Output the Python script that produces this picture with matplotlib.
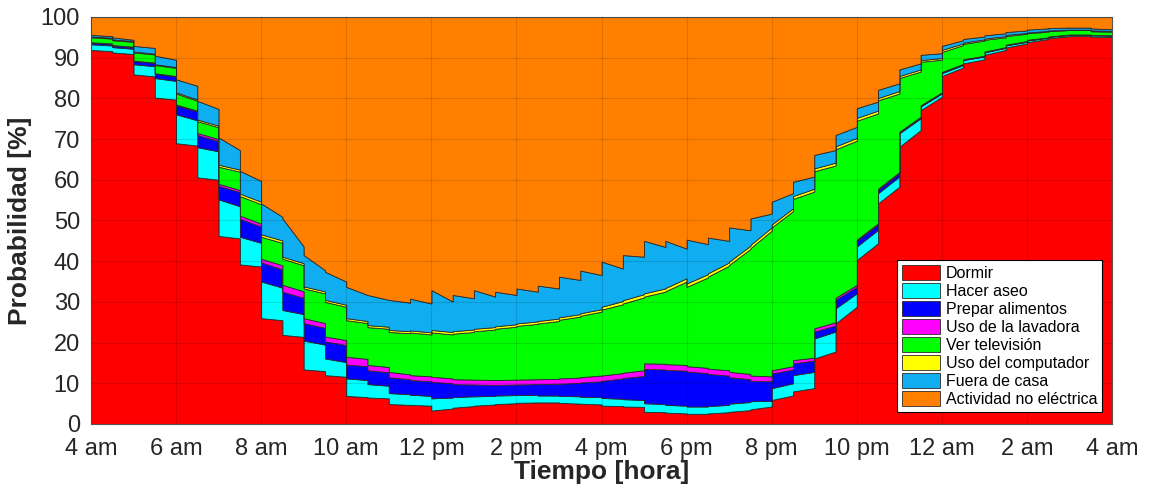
import numpy as np
import matplotlib
matplotlib.use("Agg")
import matplotlib.pyplot as plt

plt.rcParams['font.family'] = ['Liberation Sans', 'DejaVu Sans']

# horas desde las 4 am, cada media hora
t = np.arange(0, 24.5, 0.5)
tick_labels = ['4 am', '6 am', '8 am', '10 am', '12 pm', '2 pm', '4 pm', '6 pm',
               '8 pm', '10 pm', '12 am', '2 am', '4 am']

actividades = ['Dormir', 'Hacer aseo', 'Prepar alimentos', 'Uso de la lavadora',
               'Ver televisión', 'Uso del computador', 'Fuera de casa', 'Actividad no eléctrica']
colores = ['#ff0000', '#00ffff', '#0000ff', '#ff00ff', '#00ff00', '#ffff00', '#10aef0', '#ff8000']

# probabilidad [%] al inicio (ini) y al final (fin) de cada media hora
dormir_ini = [91.9, 91.3, 85.9, 80.2, 69.0, 60.6, 46.2, 39.2, 26.0, 21.9, 13.4, 12.0, 6.9, 6.5, 4.9, 4.7,
              3.3, 4.0, 4.5, 4.9, 5.2, 5.3, 5.2, 5.0, 4.5, 4.3, 3.0, 2.8, 2.5, 2.6, 3.0, 3.6,
              5.9, 8.0, 16.1, 24.7, 40.3, 54.2, 68.1, 77.1, 85.5, 88.6, 90.7, 92.5, 93.8, 94.8, 95.3, 95.2]
dormir_fin = [91.6, 90.9, 85.4, 79.7, 68.4, 60.0, 45.6, 38.7, 25.5, 21.4, 13.0, 11.6, 6.6, 6.3, 4.7, 4.5,
              3.8, 4.4, 4.8, 5.1, 5.3, 5.3, 5.0, 4.8, 4.4, 4.2, 2.9, 2.6, 2.5, 2.9, 3.4, 4.3,
              7.0, 8.8, 17.8, 28.8, 44.4, 58.3, 72.2, 80.4, 87.6, 89.6, 91.9, 93.5, 94.6, 95.3, 95.3, 95.1]

aseo_ini = [1.4, 1.3, 2.5, 4.8, 7.1, 7.4, 9.0, 6.8, 9.0, 6.1, 7.1, 4.1, 4.3, 3.3, 2.7, 2.5,
            3.0, 2.6, 2.3, 2.1, 1.9, 1.7, 1.7, 1.7, 1.9, 1.8, 2.1, 1.9, 1.8, 1.8, 2.0, 2.0,
            2.9, 4.0, 4.9, 3.7, 3.3, 2.5, 3.3, 0.9, 0.7, 0.8, 0.6, 0.5, 0.4, 0.3, 0.3, 0.3]
aseo_fin = [1.4, 1.3, 2.5, 4.6, 6.2, 7.0, 7.9, 5.8, 8.0, 5.6, 6.5, 3.6, 4.2, 3.1, 2.6, 2.4,
            2.7, 2.4, 2.1, 2.0, 1.8, 1.7, 1.8, 1.8, 1.8, 1.7, 2.0, 1.9, 1.8, 1.8, 2.0, 1.4,
            3.0, 4.0, 4.9, 3.3, 3.3, 2.5, 2.9, 0.8, 0.6, 0.7, 0.5, 0.4, 0.3, 0.3, 0.3, 0.3]

alimentos_ini = [0.4, 0.4, 0.8, 1.1, 2.2, 3.0, 3.3, 4.4, 4.7, 4.5, 4.3, 4.2, 3.4, 3.4, 3.9, 3.6,
                 4.1, 3.2, 2.9, 2.6, 2.6, 2.8, 3.0, 3.5, 4.2, 5.2, 8.4, 8.6, 8.6, 7.9, 6.5, 5.0,
                 3.6, 2.9, 1.7, 2.1, 1.4, 0.8, 0.3, 0.2, 0.2, 0.1, 0.1, 0.1, 0.1, 0.1, 0.1, 0.1]
alimentos_fin = [0.4, 0.4, 0.8, 1.1, 2.2, 2.5, 3.5, 4.0, 4.5, 4.0, 4.1, 4.2, 3.4, 3.3, 3.7, 3.6,
                 3.5, 2.9, 2.7, 2.6, 2.7, 2.9, 3.3, 3.9, 5.0, 5.9, 8.5, 8.6, 8.2, 7.2, 5.6, 4.8,
                 3.4, 2.8, 1.5, 1.6, 1.3, 0.8, 0.3, 0.2, 0.2, 0.1, 0.1, 0.1, 0.1, 0.0, 0.1, 0.1]

lavadora_ini = [0.1, 0.1, 0.1, 0.1, 0.2, 0.5, 0.5, 0.8, 0.9, 1.7, 1.2, 1.2, 1.9, 1.3, 1.3, 1.2,
                1.2, 1.2, 1.2, 1.2, 1.2, 1.2, 1.3, 1.3, 1.3, 1.3, 1.4, 1.4, 1.3, 1.3, 1.3, 1.3,
                0.8, 0.8, 0.8, 0.5, 0.3, 0.3, 0.1, 0.1, 0.1, 0.1, 0.1, 0.1, 0.1, 0.0, 0.0, 0.0]
lavadora_fin = [0.1, 0.1, 0.1, 0.1, 0.2, 0.5, 0.5, 0.7, 1.0, 1.6, 1.2, 1.2, 1.8, 1.3, 1.2, 1.2,
                1.2, 1.2, 1.2, 1.2, 1.2, 1.2, 1.3, 1.4, 1.3, 1.4, 1.4, 1.4, 1.3, 1.3, 1.3, 1.2,
                0.8, 0.7, 0.8, 0.5, 0.3, 0.3, 0.1, 0.1, 0.1, 0.1, 0.1, 0.1, 0.0, 0.1, 0.0, 0.0]

television_ini = [1.2, 1.2, 2.0, 2.0, 2.7, 2.9, 4.2, 4.8, 5.4, 6.4, 7.3, 8.5, 9.0, 9.3, 9.8, 10.5,
                  10.9, 11.2, 11.9, 12.6, 13.2, 13.7, 14.4, 15.1, 16.2, 17.0, 16.4, 17.9, 19.5, 22.6, 26.3, 31.3,
                  35.1, 39.6, 38.6, 36.5, 29.2, 21.7, 13.2, 10.7, 4.9, 3.8, 2.9, 2.1, 1.6, 1.3, 1.1, 0.9]
television_fin = [1.2, 1.2, 2.0, 2.0, 2.4, 2.9, 4.5, 4.8, 5.5, 6.4, 7.3, 8.2, 8.8, 9.4, 10.1, 10.3,
                  10.8, 11.7, 12.4, 13.0, 13.6, 14.2, 15.0, 15.7, 16.9, 17.9, 17.7, 20.5, 22.2, 25.7, 30.7, 35.8,
                  38.1, 40.8, 38.5, 35.4, 27.0, 19.3, 11.1, 8.0, 4.6, 3.7, 2.4, 1.8, 1.4, 1.1, 1.1, 0.9]

computador_ini = [0.2, 0.2, 0.2, 0.2, 0.3, 0.4, 0.5, 0.6, 0.6, 0.5, 0.5, 0.5, 0.5, 0.5, 0.5, 0.5,
                  0.6, 0.6, 0.6, 0.6, 0.6, 0.6, 0.6, 0.6, 0.7, 0.8, 0.8, 0.8, 0.8, 0.8, 0.8, 0.8,
                  0.7, 0.7, 0.7, 0.7, 0.7, 0.6, 0.5, 0.4, 0.5, 0.3, 0.3, 0.3, 0.2, 0.2, 0.1, 0.2]
computador_fin = [0.2, 0.2, 0.2, 0.2, 0.3, 0.4, 0.5, 0.6, 0.6, 0.5, 0.5, 0.5, 0.5, 0.5, 0.5, 0.5,
                  0.6, 0.6, 0.6, 0.6, 0.6, 0.6, 0.6, 0.6, 0.8, 0.8, 0.8, 0.8, 0.8, 0.8, 0.8, 0.8,
                  0.7, 0.7, 0.7, 0.7, 0.7, 0.6, 0.5, 0.4, 0.4, 0.3, 0.3, 0.2, 0.2, 0.1, 0.1, 0.2]

fuera_ini = [0.4, 0.5, 1.4, 2.1, 3.2, 4.6, 6.7, 5.6, 7.6, 9.4, 7.7, 6.9, 7.7, 7.4, 7.4, 7.8,
             9.8, 8.9, 9.5, 8.5, 8.6, 8.7, 10.0, 10.5, 11.1, 11.1, 12.9, 11.6, 10.8, 8.8, 8.4, 6.5,
             5.6, 3.5, 3.3, 2.8, 2.4, 2.0, 1.6, 1.3, 1.0, 0.9, 0.8, 0.7, 0.7, 0.6, 0.5, 0.5]
fuera_fin = [0.4, 0.3, 1.4, 1.8, 3.4, 4.1, 4.8, 5.1, 5.8, 4.1, 5.2, 5.7, 6.4, 6.6, 7.0, 7.1,
             7.5, 7.7, 7.5, 7.2, 7.3, 7.4, 8.4, 8.4, 8.0, 9.2, 10.2, 7.3, 7.4, 5.3, 3.8, 3.4,
             3.7, 3.0, 3.1, 2.7, 2.2, 1.9, 1.5, 1.2, 0.8, 0.7, 0.7, 0.6, 0.6, 0.5, 0.5, 0.4]


def tramos(ini, fin):
    # une inicio y fin de cada media hora -> escalones como en el original
    return np.column_stack((ini, fin)).ravel()


x = np.column_stack((t[:-1], t[1:])).ravel()
series = [tramos(dormir_ini, dormir_fin), tramos(aseo_ini, aseo_fin),
          tramos(alimentos_ini, alimentos_fin), tramos(lavadora_ini, lavadora_fin),
          tramos(television_ini, television_fin), tramos(computador_ini, computador_fin),
          tramos(fuera_ini, fuera_fin)]
series.append(100 - np.sum(series, axis=0))  # actividad no eléctrica

fig = plt.figure(figsize=(11.49, 4.91), dpi=100)
ax = fig.add_axes([0.0792, 0.1365, 0.8886, 0.8289])

ax.stackplot(x, series, labels=actividades, colors=colores,
             edgecolor='#2a2a2a', linewidth=0.6)

ax.set_xlim(0, 24)
ax.set_ylim(0, 100)
ax.set_xticks(np.arange(0, 25, 2))
ax.set_xticklabels(tick_labels)
ax.set_yticks(np.arange(0, 101, 10))
ax.tick_params(axis='both', labelsize=17, length=0, labelcolor='#262626')
ax.tick_params(axis='x', pad=10)
ax.tick_params(axis='y', pad=8)
ax.set_axisbelow(False)
ax.grid(True, color='black', alpha=0.13, linewidth=0.8)
for s in ax.spines.values():
    s.set_color('#555555')

ax.set_xlabel('Tiempo [hora]', fontsize=19, fontweight='bold', color='#262626', labelpad=0)
ax.set_ylabel('Probabilidad [%]', fontsize=19, fontweight='bold', color='#262626', labelpad=6)

leg = ax.legend(loc='lower right', bbox_to_anchor=(0.99, 0.03), borderaxespad=0,
                fontsize=11.5, fancybox=False, edgecolor='black', framealpha=1,
                handlelength=2.4, handleheight=1.1, labelspacing=0.12,
                handletextpad=0.35, borderpad=0.3)
leg.get_frame().set_linewidth(0.8)

fig.savefig('out.png', dpi=100)
